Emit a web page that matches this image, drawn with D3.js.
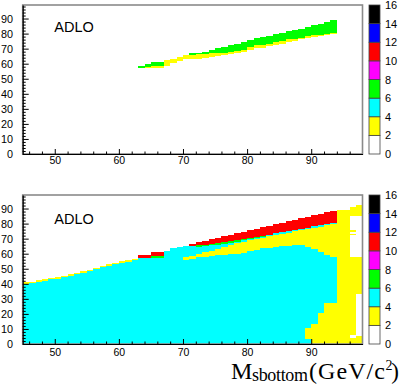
<!DOCTYPE html>
<html><head><meta charset="utf-8">
<script src="https://cdn.jsdelivr.net/npm/d3@7"></script>
<style>body{margin:0;background:#fff}svg{display:block}</style>
</head><body>
<svg id="c" width="399" height="384"></svg>
<script>
// ---- colour palette levels ----
const levelEdges = [0, 2, 4, 6, 8, 10, 12, 14, 16];
const levelColors = ["#ffffff", "#ffff00", "#00ffff", "#00ff00", "#ff00ff", "#ff0000", "#0000ff", "#000000"];
const zTickLabels = [0, 2, 4, 6, 8, 10, 12, 14, 16];
const xTickLabels = [50, 60, 70, 80, 90];
const yTickLabels = [0, 10, 20, 30, 40, 50, 60, 70, 80, 90];
const panelLabel = "ADLO";

// ---- top panel: 1 GeV columns, yellow from lo to mid, green from mid to hi ----
const topX = [63,64,65,66,67,68,69,70,71,72,73,74,75,76,77,78,79,80,81,82,83,84,85,86,87,88,89,90,91,92,93];
const topLo = [57.4,57.4,57.4,57.4,58.6,60.5,61.9,62.8,63.4,63.4,64.1,64.5,65,65.5,66.2,66.8,67.5,69,70.1,70.5,71.9,72.7,73.4,74.5,75.4,76.3,76.9,77.5,78.5,79.3,80];
const topMid = [57.4,57.9,58.6,58.6,62.3,63.4,64.5,65.6,66.1,66.4,66.4,66.8,66.8,67.2,67.8,68.3,69,71.2,72.3,72.7,73.4,74.5,75,76.3,76.7,77.1,78.5,78.9,79.3,80,80.7];
const topHi = [58.6,59.7,61.2,61.2,62.3,63.4,64.5,65.6,66.8,67.2,68,69,70.1,71.2,72.3,72.9,74.5,75.6,77,77.8,78.5,79.5,80.5,81.5,82.5,83,84.5,85.5,86.2,87.5,88.9];
const topValues = [3, 7]; // yellow, green

// ---- bottom panel: 1 GeV columns, stacked layers cyan/yellow/cyan/green/red ----
const botX = [45,46,47,48,49,50,51,52,53,54,55,56,57,58,59,60,61,62,63,64,65,66,67,68,69,70,71,72,73,74,75,76,77,78,79,80,81,82,83,84,85,86,87,88,89,90,91,92,93];
const botCyanTop = [40,40.5,41.5,42,43,43.5,44.5,45.5,46.5,47.5,48.5,50,51,52,53,54,54.5,55.5,57,57,57,57,62,63.5,64.5,56,56.5,57.5,58,58.5,59,59.3,59.5,60,60.5,62,62.5,63.5,64,64.5,65,65,65.5,65.5,64.5,63,61,59,58];
const botYellowTop = [41,41.5,42.5,43,44,44.5,45.5,46.5,47.5,48.5,49.5,50.5,51.5,53,54,55,55.5,56.5,57,57,57,57,62,63.5,64.5,57.5,58.5,60,61,62,63,64.5,66,67,68,69,69.8,70.5,71.7,72.5,73.2,74,74.8,75.6,76.4,77.2,78,78.8,79.6];
const botCyan2Top = [41,41.5,42.5,43,44,44.5,45.5,46.5,47.5,48.5,49.5,50.5,51.5,53,54,55,55.5,56.5,57,57,57,57,62,63.5,64.5,65.3,65.3,64.6,65,65.5,66,66.7,67.4,68,68.8,69.5,70.2,71,72.7,73.5,74.2,75,75.8,76.6,77.4,78.2,79,79.8,80.6];
const botGreenTop = [41,41.5,42.5,43,44,44.5,45.5,46.5,47.5,48.5,49.5,50.5,51.5,53,54,55,55.5,56.5,57,57,58.2,58.2,62,63.5,64.5,65.3,65.3,65.6,66,66.5,67,67.7,68.4,69.1,69.8,70.5,71.2,72,72.7,73.5,74.2,75,75.8,76.6,77.4,78.2,79,79.8,80.6];
const botRedTop = [41,41.5,42.5,43,44,44.5,45.5,46.5,47.5,48.5,49.5,50.5,51.5,53,54,55,55.5,56.5,59,59,61,61.2,62,63.5,64.5,65.3,66.7,67.8,68.6,69.5,70.5,71.5,72.5,73.5,74.5,75.5,76.5,77.5,78.5,79.5,80.5,81.5,82.5,83.5,84.5,85.5,86.5,87.5,88.5];
const botLayerValues = [5, 3, 5, 7, 11];

// extra bottom bins: [x0, x1, y0, y1, value]
const botStairBins = [[90,94,0,3.3,3],[89,94,3.3,10.7,3],[90,94,10.7,13.3,3],[91,94,13.3,20.4,3],[92,94,20.4,27.1,3]];
const botEdgeBins = [[94,95,0,89.3,3],[95,96,0,89.3,3],[96,97,0,90.9,3],[97,98,0,92.3,3],
  [96,98,58,85,1],[96,97,72.2,73.3,3],[96,97,74.4,75.5,3],[97,98,5,33,1],[96,97,4.2,6,1]];

// ---- build bins ----
const topBins = [];
topX.forEach((xv, i) => {
  const bounds = [topLo[i], topMid[i], topHi[i]];
  topValues.forEach((v, k) => {
    if (bounds[k + 1] > bounds[k]) topBins.push({x0: xv, x1: xv + 1, y0: bounds[k], y1: bounds[k + 1], v});
  });
});
const botBins = [];
botX.forEach((xv, i) => {
  const bounds = [0, botCyanTop[i], botYellowTop[i], botCyan2Top[i], botGreenTop[i], botRedTop[i]];
  botLayerValues.forEach((v, k) => {
    if (bounds[k + 1] > bounds[k]) botBins.push({x0: xv, x1: xv + 1, y0: bounds[k], y1: bounds[k + 1], v});
  });
});
botStairBins.concat(botEdgeBins).forEach(b => botBins.push({x0: b[0], x1: b[1], y0: b[2], y1: b[3], v: b[4]}));

// ---- drawing ----
const svg = d3.select("#c");
const x = d3.scaleLinear().domain([45, 98]).range([22.7, 362.5]);
const color = d3.scaleThreshold().domain(levelEdges.slice(1, -1)).range(levelColors);
const font = "'Liberation Sans', Arial, Helvetica, sans-serif";

function panel(cfg) {
  const y = d3.scaleLinear().domain([0, 99]).range([cfg.bottom, cfg.top]);
  const g = svg.append("g");
  g.append("g").selectAll("rect").data(cfg.bins).join("rect")
    .attr("x", d => x(d.x0)).attr("y", d => y(d.y1))
    .attr("width", d => x(d.x1) - x(d.x0)).attr("height", d => y(d.y0) - y(d.y1))
    .attr("fill", d => color(d.v)).attr("shape-rendering", "crispEdges");
  // frame (top/right grey)
  g.append("rect").attr("x", x(45)).attr("y", y(99))
    .attr("width", x(98) - x(45)).attr("height", y(0) - y(99))
    .attr("fill", "none").attr("stroke", "#8a8a8a").attr("stroke-width", 1.6);
  // x axis minor ticks
  const xMinor = d3.range(46, 98, 2).filter(v => v % 10 !== 0);
  g.append("g").attr("transform", `translate(0,${cfg.bottom})`)
    .call(d3.axisBottom(x).tickValues(xMinor).tickSize(-2.5).tickSizeOuter(0).tickFormat(""))
    .call(s => s.select(".domain").remove());
  const ax = g.append("g").attr("transform", `translate(0,${cfg.bottom})`)
    .call(d3.axisBottom(x).tickValues(xTickLabels).tickSize(-5).tickSizeOuter(0).tickPadding(cfg.xPad));
  ax.selectAll("text").attr("font-family", font).attr("font-size", 10.5).attr("fill", "#000");
  ax.select(".domain").attr("stroke", "#000").attr("stroke-width", 1.2);
  // y axis
  const yMinor = d3.range(2, 99, 2).filter(v => v % 10 !== 0);
  g.append("g").attr("transform", `translate(${x(45)},0)`)
    .call(d3.axisLeft(y).tickValues(yMinor).tickSize(-3).tickSizeOuter(0).tickFormat(""))
    .call(s => s.select(".domain").remove());
  const ay = g.append("g").attr("transform", `translate(${x(45)},0)`)
    .call(d3.axisLeft(y).tickValues(yTickLabels).tickSize(-6).tickSizeOuter(0).tickPadding(9.7));
  ay.selectAll("text").attr("font-family", font).attr("font-size", 10.8).attr("fill", "#000");
  ay.select(".domain").attr("stroke", "#000").attr("stroke-width", 1.2);
  g.selectAll(".tick line").attr("stroke", "#000");
  // label
  g.append("text").attr("x", 54.3).attr("y", cfg.labelY).text(panelLabel)
    .attr("font-family", font).attr("font-size", 14.5).attr("fill", "#000");
  // colour bar
  const z = d3.scaleLinear().domain([0, 16]).range([cfg.bottom, cfg.top]);
  const bands = levelColors.map((c, i) => ({lo: levelEdges[i], hi: levelEdges[i + 1], c}));
  g.append("g").selectAll("rect").data(bands).join("rect")
    .attr("x", 369).attr("y", d => z(d.hi)).attr("width", 11).attr("height", d => z(d.lo) - z(d.hi))
    .attr("fill", d => d.c).attr("stroke", "#444").attr("stroke-width", 0.8);
  const az = g.append("g").attr("transform", "translate(380,0)")
    .call(d3.axisRight(z).tickValues(zTickLabels).tickSize(0).tickPadding(5));
  az.select(".domain").remove();
  az.selectAll("text").attr("font-family", font).attr("font-size", 11).attr("fill", "#000");
}

panel({top: 5, bottom: 154, bins: topBins, xPad: 3, labelY: 32.3});
panel({top: 195, bottom: 344, bins: botBins, xPad: 5, labelY: 224});

// axis title
const tf = "'Liberation Serif', 'Times New Roman', serif";
const title = svg.append("g").attr("font-family", tf).attr("fill", "#000");
title.append("text").attr("x", 231).attr("y", 378.7).attr("font-size", 24).text("M");
title.append("text").attr("x", 252).attr("y", 381.3).attr("font-size", 18).attr("textLength", 56).text("sbottom");
title.append("text").attr("x", 309).attr("y", 378.7).attr("font-size", 24).attr("textLength", 76).text("(GeV/c");
title.append("text").attr("x", 385.5).attr("y", 369.5).attr("font-size", 14).text("2");
title.append("text").attr("x", 391.3).attr("y", 378.7).attr("font-size", 23).text(")");
</script>
</body></html>
